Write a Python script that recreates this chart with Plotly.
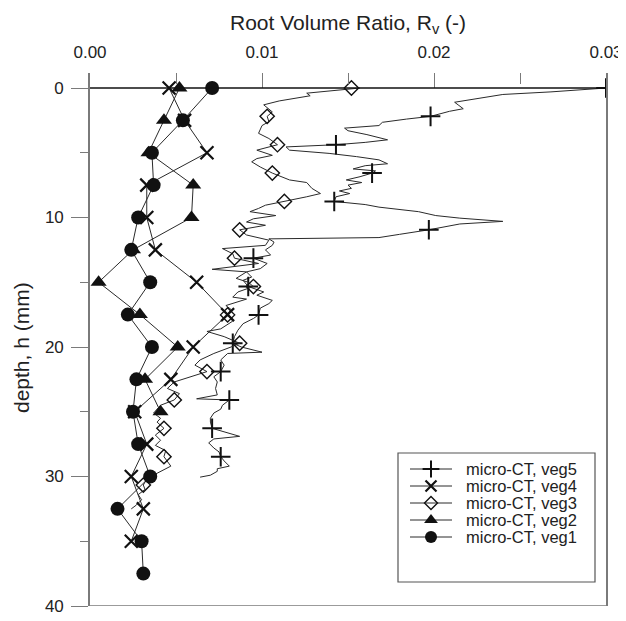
import plotly.graph_objects as go

# ---------------- data ----------------
# veg1 / veg2 / veg4: discrete samples every 2.5 mm
veg1_depth = [0, 2.5, 5, 7.5, 10, 12.5, 15, 17.5, 20, 22.5, 25, 27.5, 30, 32.5, 35, 37.5]
veg1_rv = [0.0071, 0.0054, 0.0036, 0.0037, 0.0028, 0.0024, 0.0035, 0.0022, 0.0036, 0.0027,
           0.0025, 0.0028, 0.0035, 0.0016, 0.0030, 0.0031]

veg2_depth = [0, 2.5, 5, 7.5, 10, 12.5, 15, 17.5, 20, 22.5, 25]
veg2_rv = [0.0052, 0.0043, 0.0034, 0.0060, 0.0059, 0.0025, 0.0005, 0.0029, 0.0051, 0.0032, 0.0041]

veg4_depth = [0, 2.5, 5, 7.5, 10, 12.5, 15, 17.5, 20, 22.5, 25, 27.5, 30, 32.5, 35]
veg4_rv = [0.0046, 0.0055, 0.0068, 0.0033, 0.0033, 0.0038, 0.0062, 0.0080, 0.0060, 0.0047,
           0.0026, 0.0033, 0.0024, 0.0031, 0.0024]

# veg3: continuous profile + marked samples
veg3_line_depth = [0.0, 0.2, 0.4, 0.6, 0.8, 1.0, 1.3, 1.6, 1.85, 2.19, 2.6, 2.9, 3.15, 3.5, 3.9,
                   4.38, 4.8, 5.2, 5.45, 5.7, 6.1, 6.57, 7.1, 7.3, 7.75, 8.15, 8.4, 8.76, 9.05,
                   9.3, 9.55, 9.85, 10.1, 10.35, 10.6, 10.95, 11.35, 11.75, 12.15, 12.4, 12.8,
                   13.14, 13.55, 14.0, 14.2, 14.7, 15.0, 15.33, 15.75, 16.15, 16.3, 16.8, 17.1,
                   17.52, 18.0, 18.6, 18.8, 19.2, 19.71, 20.0, 20.5, 21.0, 21.4, 21.9, 22.3,
                   22.7, 23.2, 23.6, 24.09, 24.5, 25.1, 25.5, 25.8, 26.28, 26.8, 27.2, 27.6,
                   28.0, 28.47, 29.2, 29.75, 30.2, 30.66, 31.0, 31.4, 31.8, 32.2, 32.5]
veg3_line_rv = [0.0157, 0.0143, 0.0126, 0.0128, 0.0118, 0.0110, 0.0101, 0.0104, 0.0106, 0.0103,
                0.0104, 0.0100, 0.0099, 0.0098, 0.0104, 0.0109, 0.0097, 0.0106, 0.0097, 0.0094,
                0.0099, 0.0106, 0.0116, 0.0126, 0.0129, 0.0134, 0.0126, 0.0113, 0.0102, 0.0098,
                0.0093, 0.0108, 0.0095, 0.0091, 0.0102, 0.0087, 0.0091, 0.0104, 0.0102, 0.0077,
                0.0083, 0.0084, 0.0098, 0.0071, 0.0091, 0.0085, 0.0092, 0.0095, 0.0086, 0.0083,
                0.0091, 0.0079, 0.0082, 0.0080, 0.0083, 0.0076, 0.0068, 0.0078, 0.0087, 0.0082,
                0.0072, 0.0064, 0.0061, 0.0068, 0.0058, 0.0049, 0.0045, 0.0052, 0.0049, 0.0041,
                0.0037, 0.0041, 0.0039, 0.0043, 0.0038, 0.0041, 0.0038, 0.0044, 0.0043, 0.0047,
                0.0039, 0.0033, 0.0031, 0.0032, 0.0028, 0.0030, 0.0027, 0.0024]
veg3_mark_depth = [0, 2.19, 4.38, 6.57, 8.76, 10.95, 13.14, 15.33, 17.52, 19.71, 21.9, 24.09,
                   26.28, 28.47, 30.66]
veg3_mark_rv = [0.0152, 0.0103, 0.0109, 0.0106, 0.0113, 0.0087, 0.0084, 0.0095, 0.0080, 0.0087,
                0.0068, 0.0049, 0.0043, 0.0043, 0.0031]

# veg5: continuous profile + marked samples
veg5_line_depth = [0.0, 0.3, 0.5, 0.8, 1.1, 1.3, 1.6, 1.8, 2.19, 2.4, 2.65, 2.9, 3.1, 3.3, 3.6,
                   4.0, 4.2, 4.38, 4.55, 4.8, 5.05, 5.3, 5.55, 5.85, 6.0, 6.25, 6.4, 6.57, 6.85,
                   7.1, 7.3, 7.5, 7.75, 7.95, 8.15, 8.4, 8.76, 9.0, 9.2, 9.55, 9.85, 10.05, 10.3,
                   10.5, 10.95, 11.3, 11.55, 11.65, 11.9, 12.15, 12.5, 12.9, 13.14, 13.55, 13.95,
                   14.2, 14.6, 14.85, 15.33, 15.75, 16.0, 16.4, 16.65, 17.0, 17.52, 17.8, 18.2,
                   18.7, 19.2, 19.71, 20.0, 20.4, 20.5, 21.0, 21.4, 21.9, 22.3, 22.7, 23.2, 23.7,
                   24.0, 24.09, 24.5, 24.8, 25.1, 25.5, 25.8, 26.28, 26.6, 26.9, 27.1, 27.4, 27.8,
                   28.1, 28.47, 28.8, 29.2, 29.4, 29.6, 29.9, 30.05]
veg5_line_rv = [0.0300, 0.0268, 0.0240, 0.0225, 0.0212, 0.0214, 0.0217, 0.0209, 0.0198, 0.0184,
                0.0170, 0.0168, 0.0148, 0.0150, 0.0161, 0.0173, 0.0160, 0.0143, 0.0114, 0.0116,
                0.0139, 0.0155, 0.0168, 0.0173, 0.0160, 0.0153, 0.0166, 0.0164, 0.0157, 0.0149,
                0.0158, 0.0150, 0.0152, 0.0145, 0.0151, 0.0143, 0.0142, 0.0160, 0.0168, 0.0191,
                0.0201, 0.0215, 0.0240, 0.0215, 0.0197, 0.0180, 0.0168, 0.0104, 0.0107, 0.0106,
                0.0102, 0.0105, 0.0095, 0.0103, 0.0099, 0.0091, 0.0094, 0.0089, 0.0092, 0.0101,
                0.0097, 0.0106, 0.0104, 0.0099, 0.0098, 0.0095, 0.0089, 0.0086, 0.0084, 0.0083,
                0.0088, 0.0100, 0.0080, 0.0076, 0.0078, 0.0076, 0.0072, 0.0074, 0.0073, 0.0074,
                0.0062, 0.0081, 0.0077, 0.0076, 0.0072, 0.0070, 0.0070, 0.0071, 0.0080, 0.0087,
                0.0072, 0.0069, 0.0072, 0.0075, 0.0076, 0.0078, 0.0081, 0.0074, 0.0074, 0.0070,
                0.0064]
veg5_mark_depth = [0, 2.19, 4.38, 6.57, 8.76, 10.95, 13.14, 15.33, 17.52, 19.71, 21.9, 24.09,
                   26.28, 28.47]
veg5_mark_rv = [0.0300, 0.0198, 0.0143, 0.0164, 0.0142, 0.0197, 0.0095, 0.0092, 0.0098, 0.0083,
                0.0076, 0.0081, 0.0071, 0.0076]

x_tickvals = [0.0, 0.01, 0.02, 0.03]
x_ticktext = ["0.00", "0.01", "0.02", "0.03"]
y_tickvals = [0, 10, 20, 30, 40]
legend_labels = ["micro-CT, veg5", "micro-CT, veg4", "micro-CT, veg3", "micro-CT, veg2", "micro-CT, veg1"]

# ---------------- styles ----------------
FONT = "Liberation Sans, Arial, sans-serif"
LINE_C = "#2a2a2a"
MARK_C = "#111111"
AX_C = "#7a7a7a"

sym = {
    "veg5": dict(symbol="cross-thin", size=14, color=MARK_C, line=dict(width=2, color=MARK_C)),
    "veg4": dict(symbol="x-thin", size=13, color=MARK_C, line=dict(width=2.2, color=MARK_C)),
    "veg3": dict(symbol="diamond-open", size=11, color=MARK_C, line=dict(width=1.4, color=MARK_C)),
    "veg2": dict(symbol="triangle-up", size=14, color=MARK_C, line=dict(width=0)),
    "veg1": dict(symbol="circle", size=14, color=MARK_C, line=dict(width=0)),
}
leg_sym = {
    "veg5": dict(symbol="cross-thin", size=12, color=MARK_C, line=dict(width=2, color=MARK_C)),
    "veg4": dict(symbol="x-thin", size=11, color=MARK_C, line=dict(width=2.2, color=MARK_C)),
    "veg3": dict(symbol="diamond-open", size=10, color=MARK_C, line=dict(width=1.4, color=MARK_C)),
    "veg2": dict(symbol="triangle-up", size=12, color=MARK_C, line=dict(width=0)),
    "veg1": dict(symbol="circle", size=12, color=MARK_C, line=dict(width=0)),
}

fig = go.Figure()

# continuous profiles
fig.add_trace(go.Scatter(x=veg5_line_rv, y=veg5_line_depth, mode="lines",
                         line=dict(color=LINE_C, width=1), showlegend=False, hoverinfo="skip"))
fig.add_trace(go.Scatter(x=veg5_mark_rv, y=veg5_mark_depth, mode="markers",
                         marker=sym["veg5"], showlegend=False))
fig.add_trace(go.Scatter(x=veg3_line_rv, y=veg3_line_depth, mode="lines",
                         line=dict(color=LINE_C, width=1), showlegend=False, hoverinfo="skip"))
fig.add_trace(go.Scatter(x=veg3_mark_rv, y=veg3_mark_depth, mode="markers",
                         marker=sym["veg3"], showlegend=False))

# discrete profiles
for rv, d, key in [(veg4_rv, veg4_depth, "veg4"), (veg2_rv, veg2_depth, "veg2"), (veg1_rv, veg1_depth, "veg1")]:
    fig.add_trace(go.Scatter(x=rv, y=d, mode="lines+markers",
                             line=dict(color=LINE_C, width=1), marker=sym[key], showlegend=False))

# ---------------- manual legend on an auxiliary pixel-like axis ----------------
# (page pixel coordinates; the plot area spans x 90..606, y 73..606)
L_X0, L_X1, L_MID, L_TXT = 410, 452, 431, 464
L_ROW0, L_DY = 469, 17
for i, (lab, key) in enumerate(zip(legend_labels, ["veg5", "veg4", "veg3", "veg2", "veg1"])):
    yy = L_ROW0 + i * L_DY
    fig.add_trace(go.Scatter(x=[L_X0, L_X1], y=[yy, yy], mode="lines", xaxis="x2", yaxis="y2",
                             line=dict(color=LINE_C, width=1), showlegend=False, hoverinfo="skip"))
    fig.add_trace(go.Scatter(x=[L_MID], y=[yy], mode="markers", xaxis="x2", yaxis="y2",
                             marker=leg_sym[key], showlegend=False, hoverinfo="skip"))
    fig.add_annotation(x=L_TXT, y=yy, xref="x2", yref="y2", text=lab, showarrow=False,
                       xanchor="left", yanchor="middle", font=dict(size=16.5, color="#222", family=FONT))

fig.add_shape(type="rect", xref="x2", yref="y2", x0=398, x1=595, y0=453, y1=582,
              line=dict(color="#555", width=1.2), fillcolor="rgba(0,0,0,0)")

# zero-depth axis line and bottom frame line
fig.add_shape(type="line", xref="paper", yref="y", x0=0, x1=1, y0=0, y1=0,
              line=dict(color="#111", width=1.3))
fig.add_shape(type="line", xref="paper", yref="y", x0=0, x1=1, y0=40, y1=40,
              line=dict(color=AX_C, width=1.6))

# titles
fig.add_annotation(xref="paper", yref="paper", x=(348 - 90) / 516, y=(606 - 24) / 533,
                   text="Root Volume Ratio, R<sub>v</sub> (-)", showarrow=False,
                   xanchor="center", yanchor="middle", font=dict(size=21, color="#222", family=FONT))
fig.add_annotation(xref="paper", yref="paper", x=(21 - 90) / 516, y=(606 - 348) / 533,
                   text="depth, h (mm)", textangle=-90, showarrow=False,
                   xanchor="center", yanchor="middle", font=dict(size=21, color="#222", family=FONT))

# the page body adds an 8 px offset, so the figure is 8 px smaller and margins shifted
fig.update_layout(
    width=618, height=613,
    margin=dict(l=82, r=20, t=65, b=15, autoexpand=False),
    paper_bgcolor="white", plot_bgcolor="white",
    font=dict(family=FONT, color="#222"),
    showlegend=False,
    xaxis=dict(range=[0, 0.03], side="top", tickvals=x_tickvals, ticktext=x_ticktext,
               ticks="inside", ticklen=15, tickwidth=1.3, tickcolor=AX_C,
               minor=dict(dtick=0.005, tick0=0, ticks="inside", ticklen=11, tickwidth=1.3, tickcolor=AX_C),
               showline=False, showgrid=False, zeroline=False, automargin=False,
               tickfont=dict(size=17, color="#222", family=FONT), ticklabelstandoff=11),
    yaxis=dict(range=[40, -1.158], tickvals=y_tickvals, ticks="outside", ticklen=17, tickwidth=1.3,
               tickcolor=AX_C,
               minor=dict(dtick=5, tick0=0, ticks="outside", ticklen=8, tickwidth=1.3, tickcolor=AX_C),
               showline=True, linecolor=AX_C, linewidth=1.6, mirror=True,
               showgrid=False, zeroline=False, automargin=False,
               tickfont=dict(size=17, color="#222", family=FONT), ticklabelstandoff=4),
    xaxis2=dict(range=[90, 606], overlaying="x", visible=False, anchor="y2"),
    yaxis2=dict(range=[606, 73], overlaying="y", visible=False, anchor="x2"),
)

fig.write_html("out.html")
